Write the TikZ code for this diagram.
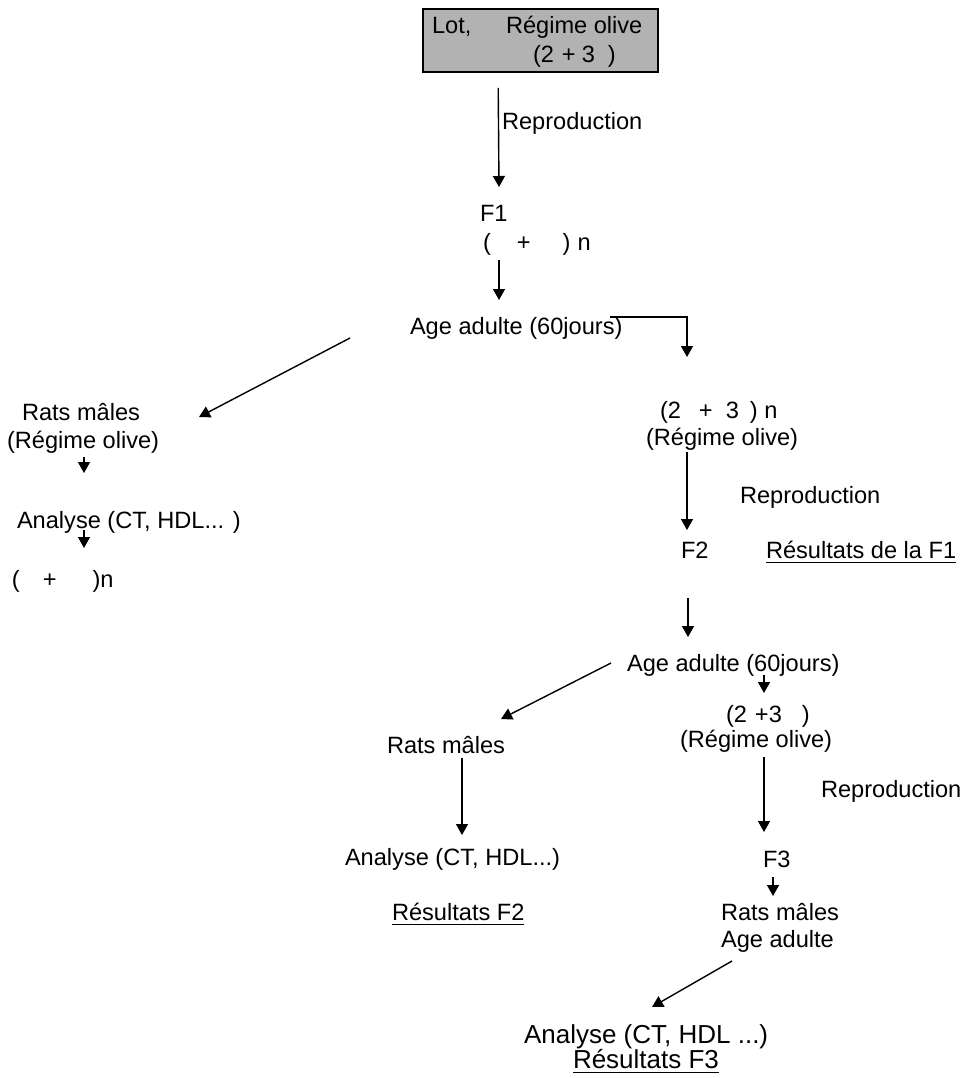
\documentclass[tikz,border=0pt]{standalone}
\usepackage{fontspec}
\setmainfont{Liberation Sans}
\usetikzlibrary{arrows.meta}
\newcommand{\ulx}[1]{\setbox0=\hbox{#1}\rlap{\rule[-5pt]{\wd0}{1.1pt}}\box0}
\begin{document}
\begin{tikzpicture}[x=1pt,y=-1pt,
  txt/.style={anchor=base west,inner sep=0pt,outer sep=0pt,font=\fontsize{23.6}{27}\selectfont},
  bigtxt/.style={anchor=base west,inner sep=0pt,outer sep=0pt,font=\fontsize{26}{30}\selectfont},
  lotbox/.style={draw=black,line width=1.6pt,fill=black!30,minimum width=235pt,minimum height=63pt,inner sep=0pt},
  arr/.style={line width=1.4pt,-{Triangle[length=11pt,width=12pt]}}]
\useasboundingbox (0,0) rectangle (978,1078);
% top box
\node[lotbox] (box) at (540.5,40.5) {};
\node[txt] (lot) at (432,34) {Lot,};
\node[txt] (regime0) at (506,34) {Régime olive};
\node[txt] (mix0) at (533,63) {(2\hspace{8pt}+\hspace{6pt}3\hspace{13pt})};
% F1 column
\node[txt] (repro1) at (502,130) {Reproduction};
\node[txt] (f1) at (480,222) {F1};
\node[txt] (mix1) at (483,250) {(\hspace{26pt}+\hspace{32pt})\hspace{7pt}n};
\node[txt] (age1) at (410,334) {Age adulte (60jours)};
% left column
\node[txt] (rats1) at (22,420) {Rats mâles};
\node[txt] (regime1) at (7,448) {(Régime olive)};
\node[txt] (analyse1) at (17,528) {Analyse (CT, HDL... )};
\node[txt] (mix2) at (12,587) {(\hspace{23pt}+\hspace{36pt})n};
% right column
\node[txt] (mix3) at (660,418) {(2\hspace{18pt}+\hspace{13pt}3\hspace{11pt})\hspace{6.5pt}n};
\node[txt] (regime2) at (646,445) {(Régime olive)};
\node[txt] (repro2) at (740,503) {Reproduction};
\node[txt] (f2) at (681,558) {F2};
\node[txt] (res1) at (766,558) {\ulx{Résultats de la F1}};
\node[txt] (age2) at (627,671) {Age adulte (60jours)};
\node[txt] (rats2) at (387,753) {Rats mâles};
\node[txt] (mix4) at (726,722) {(2\hspace{8pt}+3\hspace{20pt})};
\node[txt] (regime3) at (680,747) {(Régime olive)};
\node[txt] (repro3) at (821,797) {Reproduction};
\node[txt] (analyse2) at (345,865) {Analyse (CT, HDL...)};
\node[txt] (f3) at (763,867) {F3};
\node[txt] (res2) at (392,920) {\ulx{Résultats F2}};
\node[txt] (rats3) at (721,920) {Rats mâles};
\node[txt] (age3) at (721,947) {Age adulte};
\node[bigtxt] (analyse3) at (524,1043) {Analyse (CT, HDL ...)};
\node[bigtxt] (res3) at (573,1068) {\ulx{Résultats F3}};
% connectors
\draw[arr] ([shift={(76,15)}]box.south west) -- ([shift={(19,-35)}]f1.base west);
\draw[arr] ([shift={(16,10)}]mix1.base west) -- ([shift={(89,-34)}]age1.base west);
\draw[arr] ([shift={(200,-17)}]age1.base west) -| ([shift={(27,-61)}]mix3.base west);
\draw[arr] ([shift={(-60,4)}]age1.base west) -- ([shift={(177,-3)}]rats1.base west);
\draw[arr] ([shift={(77,9)}]regime1.base west) -- ([shift={(67,-55)}]analyse1.base west);
\draw[arr] ([shift={(67,2)}]analyse1.base west) -- ([shift={(72,-39)}]mix2.base west);
\draw[arr] ([shift={(41,7)}]regime2.base west) -- ([shift={(6,-28)}]f2.base west);
\draw[arr] ([shift={(7,40)}]f2.base west) -- ([shift={(61,-34)}]age2.base west);
\draw[arr] ([shift={(-16,-8)}]age2.base west) -- ([shift={(114,-34)}]rats2.base west);
\draw[arr] ([shift={(137,4)}]age2.base west) -- ([shift={(38,-29)}]mix4.base west);
\draw[arr] ([shift={(84,10)}]regime3.base west) -- ([shift={(1,-35)}]f3.base west);
\draw[arr] ([shift={(75,5)}]rats2.base west) -- ([shift={(117,-30)}]analyse2.base west);
\draw[arr] ([shift={(10,10)}]f3.base west) -- ([shift={(52,-24)}]rats3.base west);
\draw[arr] ([shift={(11,14)}]age3.base west) -- ([shift={(128,-36)}]analyse3.base west);
\end{tikzpicture}
\end{document}
